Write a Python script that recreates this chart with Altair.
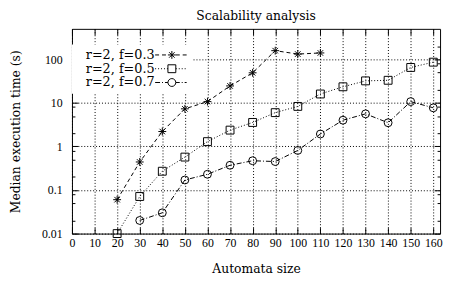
import altair as alt
import pandas as pd

# ---------------- data ----------------
series_names = ["r=2, f=0.3", "r=2, f=0.5", "r=2, f=0.7"]

f03_size = [20, 30, 40, 50, 60, 70, 80, 90, 100, 110]
f03_time = [0.06, 0.44, 2.2, 7.3, 10.7, 24.5, 49, 158, 132, 140]

f05_size = [20, 30, 40, 50, 60, 70, 80, 90, 100, 110, 120, 130, 140, 150, 160]
f05_time = [0.01, 0.071, 0.27, 0.57, 1.29, 2.37, 3.55, 5.97, 8.3, 16, 23.4, 32, 33, 65, 86]

f07_size = [30, 40, 50, 60, 70, 80, 90, 100, 110, 120, 130, 140, 150, 160]
f07_time = [0.02, 0.03, 0.17, 0.23, 0.37, 0.47, 0.45, 0.81, 1.93, 4.0, 5.6, 3.5, 10.7, 7.7]

x_ticks = [0, 10, 20, 30, 40, 50, 60, 70, 80, 90, 100, 110, 120, 130, 140, 150, 160]
y_major = [0.01, 0.1, 1, 10, 100]
y_minor = [0.02, 0.05, 0.08, 0.2, 0.5, 0.8, 2, 5, 8, 20, 50, 80, 200]

rows = []
for name, xs_, ys_ in zip(series_names, [f03_size, f05_size, f07_size], [f03_time, f05_time, f07_time]):
    for a, b in zip(xs_, ys_):
        rows.append({"size": a, "time": b, "series": name})
df = pd.DataFrame(rows)

# ---------------- styling ----------------
FONT = "DejaVu Serif"
NUMFONT = "Liberation Serif"
W, H = 374, 208

xscale = alt.Scale(domain=[0, 163], nice=False, zero=False)
yscale = alt.Scale(type="log", domain=[0.01, 500], nice=False)

dash_range = [[4, 3], [1, 2], [5, 2, 1, 2]]
STAR = "M-1,0L1,0M0,-1L0,1M-0.7,-0.7L0.7,0.7M-0.7,0.7L0.7,-0.7"
marker_range = [STAR, "square", "circle"]


def dash_path(x0, x1, pattern, skip0, skip1):
    out = []
    pos, i = x0, 0
    while pos < x1 - 1e-9:
        seg = pattern[i % len(pattern)]
        end = min(pos + seg, x1)
        if i % 2 == 0:
            for a, b in [(pos, min(end, skip0)), (max(pos, skip1), end)]:
                if b - a > 0.2:
                    out.append(f"M{a:.2f},0L{b:.2f},0")
        pos = end
        i += 1
    return "".join(out)


LX0, LX1, CX, R = 74, 106, 91, 4
leg_star = dash_path(LX0, LX1, [4, 3], CX - R, CX + R) + \
    f"M{CX-R},0L{CX+R},0M{CX},-{R}L{CX},{R}M{CX-2.8},-2.8L{CX+2.8},2.8M{CX-2.8},2.8L{CX+2.8},-2.8"
leg_square = dash_path(LX0, LX1, [1, 2], CX - R, CX + R) + \
    f"M{CX-R},-{R}L{CX+R},-{R}L{CX+R},{R}L{CX-R},{R}Z"
leg_circle = dash_path(LX0, LX1, [5, 2, 1, 2], CX - R, CX + R) + \
    f"M{CX+R},0A{R},{R},0,1,1,{CX-R},0A{R},{R},0,1,1,{CX+R},0Z"
legend_range = [leg_star, leg_square, leg_circle]

base = alt.Chart(df)


def inward(orient, values, size):
    return alt.Axis(orient=orient, values=values, offset=-size, tickSize=size, ticks=True,
                    labels=False, domain=False, grid=False, title=None,
                    tickColor="black", tickWidth=1)


x_main = alt.Axis(values=x_ticks, format="d", ticks=False, tickSize=0, domain=False,
                  grid=True, gridColor="black", gridDash=[1, 2], gridWidth=1, gridOpacity=1,
                  labelFont=NUMFONT, labelFontSize=12, labelColor="black", labelPadding=4,
                  labelOverlap=False, labelFlush=False,
                  title="Automata size", titleFont=FONT, titleFontSize=12.5,
                  titleFontWeight="normal", titleColor="black", titlePadding=15)
y_main = alt.Axis(values=y_major, format="~g", ticks=False, tickSize=0, domain=False,
                  grid=True, gridColor="black", gridDash=[1, 2], gridWidth=1, gridOpacity=1,
                  labelFont=NUMFONT, labelFontSize=12, labelColor="black", labelPadding=10,
                  labelOverlap=False,
                  title="Median execution time (s)", titleFont=FONT, titleFontSize=12.5,
                  titleFontWeight="normal", titleColor="black", titlePadding=19)

lines = base.mark_line(color="black", strokeWidth=1).encode(
    x=alt.X("size:Q", scale=xscale, axis=x_main),
    y=alt.Y("time:Q", scale=yscale, axis=y_main),
    strokeDash=alt.StrokeDash("series:N", scale=alt.Scale(domain=series_names, range=dash_range), legend=None),
)

points = base.mark_point(filled=False, color="black", size=64, strokeWidth=1, opacity=1).encode(
    x=alt.X("size:Q", scale=xscale, axis=inward("bottom", x_ticks, 6)),
    y=alt.Y("time:Q", scale=yscale, axis=inward("left", y_major, 6)),
    shape=alt.Shape("series:N", scale=alt.Scale(domain=series_names, range=marker_range), legend=None),
)

legend_layer = base.mark_point(filled=False, color="black", opacity=0).encode(
    x=alt.X("size:Q", scale=xscale, axis=inward("top", x_ticks, 6)),
    y=alt.Y("time:Q", scale=yscale, axis=inward("right", y_major, 6)),
    shape=alt.Shape("series:N", scale=alt.Scale(domain=series_names, range=legend_range),
                    legend=alt.Legend(title=None, orient="none", legendX=0, legendY=16, padding=4,
                                      fillColor="white", symbolSize=4, symbolStrokeWidth=1,
                                      symbolStrokeColor="black", symbolFillColor="transparent",
                                      symbolOpacity=1, labelFont=FONT, labelFontSize=13,
                                      labelColor="black", labelAlign="right", labelOffset=67,
                                      labelBaseline="middle", rowPadding=0, labelLimit=300)),
)

minor_left = base.mark_point(opacity=0).encode(
    x=alt.X("size:Q", scale=xscale, axis=None),
    y=alt.Y("time:Q", scale=yscale, axis=inward("left", y_minor, 3)),
)
minor_right = base.mark_point(opacity=0).encode(
    x=alt.X("size:Q", scale=xscale, axis=None),
    y=alt.Y("time:Q", scale=yscale, axis=inward("right", y_minor, 3)),
)

chart = alt.layer(lines, points, legend_layer, minor_left, minor_right).resolve_scale(
    shape="independent"
).resolve_axis(
    x="independent", y="independent"
).properties(
    width=W, height=H,
    autosize=alt.AutoSizeParams(type="none"),
    padding={"left": 65, "top": 19, "right": 4, "bottom": 47},
    title=alt.TitleParams("Scalability analysis", font=FONT, fontSize=12.5, fontWeight="normal",
                          color="black", anchor="middle", offset=6),
    background="white",
).configure_view(stroke="black", strokeWidth=1)

chart.save("out.html", embed_options={"renderer": "svg", "actions": False})
